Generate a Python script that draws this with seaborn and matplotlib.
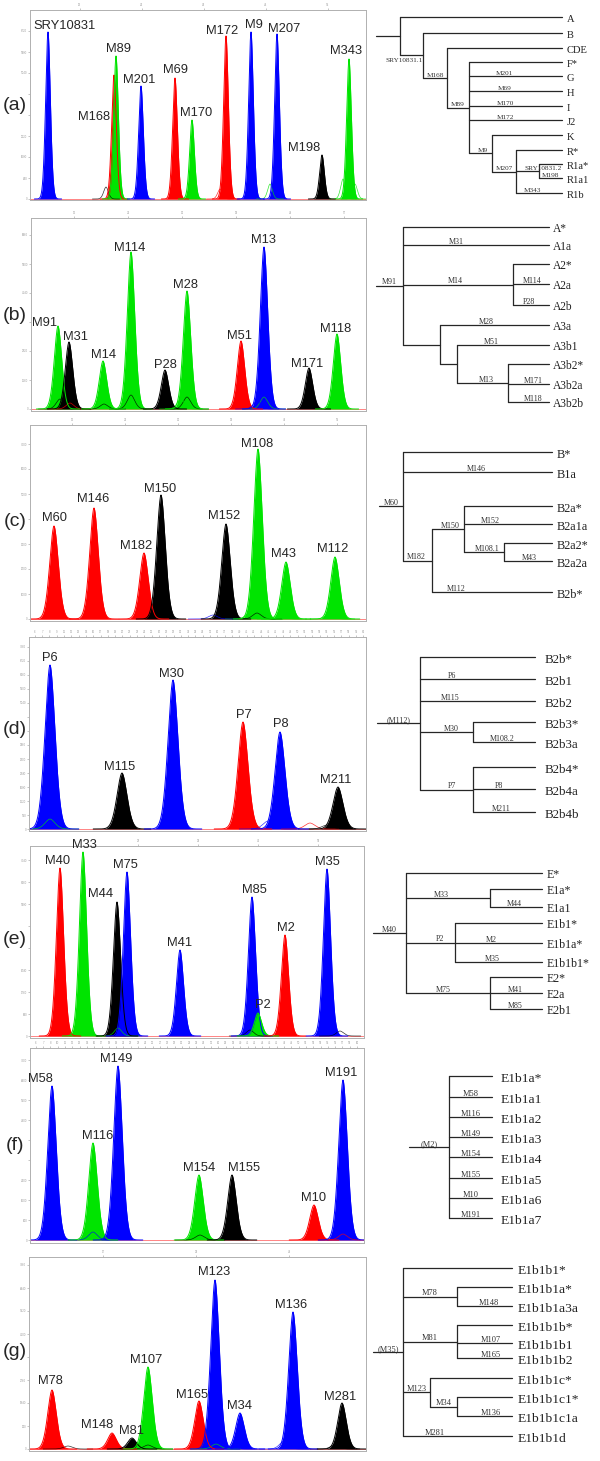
import numpy as np
import pandas as pd
import seaborn as sns
import matplotlib.pyplot as plt

sns.set_style('white')
plt.rcParams['font.family'] = ['Liberation Sans', 'DejaVu Sans']

DYE = {'blue': '#0000ff', 'red': '#ff0000', 'green': '#00e400', 'black': '#000000'}

# ---------------- electropherogram data (scan position, peak height, dye) ----------------
a_markers = ['SRY10831', 'M168', 'M89', 'M201', 'M69', 'M170', 'M172', 'M9', 'M207', 'M198', 'M343']
a_pos = [48, 114, 116, 141, 175, 192, 226, 251, 277, 322, 349]
a_height = [167, 124, 143, 113, 121, 79, 163, 167, 165, 44, 140]
a_dye = ['blue', 'red', 'green', 'blue', 'red', 'green', 'red', 'blue', 'blue', 'black', 'green']
a_minor_pos = [106, 220, 250, 270, 343, 355]
a_minor_h = [12, 10, 25, 15, 20, 15]
a_minor_dye = ['black', 'red', 'blue', 'green', 'green', 'green']

b_markers = ['M91', 'M31', 'M14', 'M114', 'P28', 'M28', 'M51', 'M13', 'M171', 'M118']
b_pos = [58, 69, 103, 131, 165, 187, 241, 264, 309, 337]
b_height = [83, 67, 48, 157, 39, 118, 68, 162, 41, 75]
b_dye = ['green', 'black', 'green', 'green', 'black', 'green', 'red', 'blue', 'black', 'green']
b_minor_pos = [60, 70, 104, 131, 187, 181, 264, 257]
b_minor_h = [10, 6, 5, 14, 12, 10, 12, 8]
b_minor_dye = ['black', 'red', 'black', 'black', 'black', 'green', 'green', 'blue']

c_markers = ['M60', 'M146', 'M182', 'M150', 'M152', 'M108', 'M43', 'M112']
c_pos = [54, 94, 144, 161, 226, 258, 286, 335]
c_height = [93, 111, 66, 124, 95, 170, 57, 62]
c_dye = ['red', 'red', 'red', 'black', 'black', 'green', 'green', 'green']
c_minor_pos = [250, 257, 282, 330, 213]
c_minor_h = [6, 6, 3, 5, 4]
c_minor_dye = ['green', 'black', 'green', 'green', 'blue']

d_markers = ['P6', 'M115', 'M30', 'P7', 'P8', 'M211']
d_pos = [50, 122, 173, 243, 280, 338]
d_height = [164, 56, 149, 107, 97, 42]
d_dye = ['blue', 'black', 'blue', 'red', 'blue', 'black']
d_minor_pos = [50, 268, 310, 327]
d_minor_h = [10, 8, 6, 4]
d_minor_dye = ['green', 'blue', 'red', 'black']

e_markers = ['M40', 'M33', 'M44', 'M75', 'M41', 'M85', 'P2', 'M2', 'M35']
e_pos = [60, 83, 117, 127, 180, 252, 258, 285, 327]
e_height = [168, 184, 134, 164, 86, 139, 23, 101, 167]
e_dye = ['red', 'green', 'black', 'blue', 'blue', 'blue', 'green', 'red', 'blue']
e_minor_pos = [118, 250, 340]
e_minor_h = [8, 6, 5]
e_minor_dye = ['green', 'black', 'black']

f_markers = ['M58', 'M116', 'M149', 'M154', 'M155', 'M10', 'M191']
f_pos = [52, 93, 118, 199, 232, 314, 343]
f_height = [154, 97, 174, 65, 65, 35, 160]
f_dye = ['blue', 'green', 'blue', 'green', 'black', 'red', 'blue']
f_minor_pos = [93, 200, 343]
f_minor_h = [8, 5, 6]
f_minor_dye = ['blue', 'black', 'red']

g_markers = ['M78', 'M148', 'M81', 'M107', 'M165', 'M123', 'M34', 'M136', 'M281']
g_pos = [52, 112, 132, 148, 199, 215, 240, 293, 342]
g_height = [59, 16, 11, 82, 48, 169, 36, 137, 46]
g_dye = ['red', 'red', 'black', 'green', 'red', 'blue', 'blue', 'blue', 'black']
g_minor_pos = [68, 148, 216, 232, 284, 335]
g_minor_h = [3, 4, 5, 3, 8, 4]
g_minor_dye = ['black', 'black', 'green', 'blue', 'blue', 'black']

# ---------------- layout (pixel boxes, label offsets, widths) ----------------
panels = [
    ('a', a_markers, a_pos, a_height, a_dye, (a_minor_pos, a_minor_h, a_minor_dye),
     (30, 10, 366, 200), 1, 3.4, 62, 21, 105,
     [17, -20, 2, -2, 0, 4, -4, 3, 7, -18, -3], [3, -45, 4, 3, 5, 4, 2, 4, 2, 4, 5]),
    ('b', b_markers, b_pos, b_height, b_dye, (b_minor_pos, b_minor_h, b_minor_dye),
     (31, 218, 366, 411), 2, 5.4, 54, 29, 316,
     [-13, 6, 1, -1, 0, -2, -1, 0, -2, -1], [0, 2, 3, 1, 2, 3, 2, 4, 1, 2]),
    ('c', c_markers, c_pos, c_height, c_dye, (c_minor_pos, c_minor_h, c_minor_dye),
     (30, 425, 366, 621), 2, 6.2, 53, 25, 521,
     [0, -1, -8, -1, -2, -1, -3, -2], [5, 6, 4, 3, 5, 2, 5, 5]),
    ('d', d_markers, d_pos, d_height, d_dye, (d_minor_pos, d_minor_h, d_minor_dye),
     (29, 637, 366, 831), 2, 7.2, 7.3, 14, 729,
     [0, -2, -1, 1, 1, -2], [4, 3, 3, 4, 5, 4]),
    ('e', e_markers, e_pos, e_height, e_dye, (e_minor_pos, e_minor_h, e_minor_dye),
     (30, 846, 364, 1038), 2, 5.2, 60, 22, 940,
     [-2, 1, -16, -2, 0, 2, 5, 1, 0], [4, 4, 5, 4, 4, 4, 5, 4, 4]),
    ('f', f_markers, f_pos, f_height, f_dye, (f_minor_pos, f_minor_h, f_minor_dye),
     (30, 1048, 364, 1243), 3, 6.2, 7.3, 20, 1145,
     [-12, 5, -2, 0, 12, 0, -2], [4, 4, 4, 4, 4, 4, 4]),
    ('g', g_markers, g_pos, g_height, g_dye, (g_minor_pos, g_minor_h, g_minor_dye),
     (29, 1257, 366, 1451), 2, 6.2, 93, 23, 1352,
     [-2, -15, -1, -2, -7, -1, -1, -2, -2], [6, 5, 4, 4, 3, 5, 4, 4, 3]),
]

# ---------------- haplogroup trees ----------------
tree_a = (400, [(None, 'A'), ('SRY10831.1', (423, [(None, 'B'), ('M168', (447, [
    (None, 'CDE'), ('M89', (469, [(None, 'F*'), ('M201', 'G'), ('M69', 'H'), ('M170', 'I'), ('M172', 'J2'),
                                   ('M9', (492, [(None, 'K'), ('M207', (516, [
                                       (None, 'R*'), ('SRY10831.2', (539, [(None, 'R1a*'), ('M198', 'R1a1')])),
                                       ('M343', 'R1b')]))]))]))]))]))])
tree_b = (403, [(None, 'A*'), ('M31', 'A1a'),
                ('M14', (513, [(None, 'A2*'), ('M114', 'A2a'), ('P28', 'A2b')])),
                (None, (440, [('M28', 'A3a'), (None, (457, [
                    ('M51', 'A3b1'), ('M13', (508, [(None, 'A3b2*'), ('M171', 'A3b2a'), ('M118', 'A3b2b')]))]))]))])
tree_c = (403, [(None, 'B*'), ('M146', 'B1a'),
                ('M182', (432, [('M150', (464, [(None, 'B2a*'), ('M152', 'B2a1a'),
                                                ('M108.1', (504, [(None, 'B2a2*'), ('M43', 'B2a2a')]))])),
                                ('M112', 'B2b*')]))])
tree_d = (420, [(None, 'B2b*'), ('P6', 'B2b1'), ('M115', 'B2b2'),
                ('M30', (473, [(None, 'B2b3*'), ('M108.2', 'B2b3a')])),
                ('P7', (473, [(None, 'B2b4*'), ('P8', 'B2b4a'), ('M211', 'B2b4b')]))])
tree_e = (406, [(None, 'E*'), ('M33', (490, [(None, 'E1a*'), ('M44', 'E1a1')])),
                ('P2', (455, [(None, 'E1b1*'), ('M2', 'E1b1a*'), ('M35', 'E1b1b1*')])),
                ('M75', (490, [(None, 'E2*'), ('M41', 'E2a'), ('M85', 'E2b1')]))])
tree_f = (449, [(None, 'E1b1a*'), ('M58', 'E1b1a1'), ('M116', 'E1b1a2'), ('M149', 'E1b1a3'),
                ('M154', 'E1b1a4'), ('M155', 'E1b1a5'), ('M10', 'E1b1a6'), ('M191', 'E1b1a7')])
tree_g = (403, [(None, 'E1b1b1*'), ('M78', (457, [(None, 'E1b1b1a*'), ('M148', 'E1b1b1a3a')])),
                ('M81', (457, [(None, 'E1b1b1b*'), ('M107', 'E1b1b1b1'), ('M165', 'E1b1b1b2')])),
                ('M123', (430, [(None, 'E1b1b1c*'), ('M34', (457, [(None, 'E1b1b1c1*'), ('M136', 'E1b1b1c1a')]))])),
                ('M281', 'E1b1b1d')])

trees = [
    (tree_a, 376, None, [17, 33, 48, 62, 76, 91, 106, 120, 135, 150, 164, 178, 193], 562, 5, 7.6, 5.2,
     {'M201': 504, 'M69': 505, 'M170': 505, 'M172': 505, 'M9': 483, 'SRY10831.2': 543, 'M343': 532,
      'SRY10831.1': 404}),
    (tree_b, 376, 'M91', [227, 245, 264, 284, 305, 325, 345, 364, 384, 402], 549, 4, 8.3, 5.8,
     {'M31': 456, 'M14': 455, 'M114': 532, 'P28': 529, 'M28': 486, 'M51': 491, 'M13': 486,
      'M171': 533, 'M118': 533}),
    (tree_c, 379, 'M60', [452, 472, 506, 524, 543, 561, 592], 552, 5, 8.8, 5.8,
     {'M146': 476, 'M182': 416, 'M150': 450, 'M152': 490, 'M108.1': 487, 'M43': 529, 'M112': 456}),
    (tree_d, 377, '(M112)', [657, 679, 701, 722, 742, 767, 789, 812], 535, 10, 9.3, 5.8,
     {'P6': 452, 'M115': 450, 'M30': 451, 'M108.2': 502, 'P7': 452, 'P8': 499, 'M211': 501}),
    (tree_e, 373, 'M40', [873, 889, 907, 923, 943, 962, 977, 993, 1009], 542, 5, 8.6, 5.8,
     {'M33': 441, 'M44': 514, 'P2': 440, 'M2': 491, 'M35': 492, 'M75': 443, 'M41': 515, 'M85': 515}),
    (tree_f, 409, '(M2)', [1076, 1097, 1117, 1137, 1157, 1178, 1198, 1218], 492, 9, 9.7, 6.0, {}),
    (tree_g, 373, '(M35)', [1268, 1287, 1306, 1325, 1343, 1358, 1378, 1397, 1416, 1436], 512, 6, 9.7, 6.0,
     {'M148': 489, 'M107': 491, 'M165': 491, 'M136': 491, 'M281': 435}),
]

W, H = 600, 1461
fig = plt.figure(figsize=(6, 14.61), dpi=100)


def peak_frame(markers, pos, height, dyes, w):
    parts = []
    for m, c, h, d in zip(markers, pos, height, dyes):
        xs = np.linspace(c - 4 * w, c + 4 * w, 161)
        ys = h * np.exp(-(np.abs(xs - c) / w) ** 1.8)
        parts.append(pd.DataFrame({'x': xs, 'y': ys, 'marker': m, 'dye': d}))
    return pd.concat(parts, ignore_index=True)


for (let, markers, pos, height, dyes, minor, box, boff, w, xstep, ystep, ly, ldx, ldy) in panels:
    l, t, r, b = box
    ax = fig.add_axes([l / W, 1 - b / H, (r - l) / W, (b - t) / H])
    ax.set_xlim(l, r)
    ax.set_ylim(-boff, (b - t) - boff)

    mp, mh, md = minor
    mdf = peak_frame([f'm{i}' for i in range(len(mp))], mp, mh, md, w)
    sns.lineplot(data=mdf, x='x', y='y', hue='marker', units='marker', estimator=None, sort=False,
                 palette={f'm{i}': DYE[d] for i, d in enumerate(md)}, legend=False, lw=0.5, alpha=0.8, ax=ax)

    df = peak_frame(markers, pos, height, dyes, w)
    for m, d in zip(markers, dyes):
        sub = df[df.marker == m]
        ax.fill_between(sub.x, 0, sub.y, color=DYE[d], lw=0)
    sns.lineplot(data=df, x='x', y='y', hue='marker', units='marker', estimator=None, sort=False,
                 palette={m: DYE[d] for m, d in zip(markers, dyes)}, legend=False, lw=0.7, ax=ax)
    ax.axhline(0, color='#ff7070', lw=0.6, zorder=0.5)

    for m, c, h, dx, dy in zip(markers, pos, height, ldx, ldy):
        ax.text(c + dx, h + dy, m, ha='center', va='baseline', fontsize=9.3)

    # tiny axis numbers are left out where a label covers them
    lab_h = (b - ly) - boff
    top_h = (b - t) - boff
    busy_x = [c + dx for c, h, dx, dy in zip(pos, height, ldx, ldy) if h + dy + 10 > top_h]
    ax.set_xticks(np.arange(l + xstep * 0.8, r, xstep))
    ax.set_yticks(np.arange(0, b - t - 4, ystep))
    ax.xaxis.set_major_formatter(plt.FuncFormatter(
        lambda v, p, bx=busy_x: '' if any(abs(v - x) < 20 for x in bx) else f'{v / 6:.0f}'))
    ax.yaxis.set_major_formatter(plt.FuncFormatter(
        lambda v, p, lh=lab_h: '' if abs(v - lh) < 16 else f'{v * 40:.0f}'))
    ax.tick_params(axis='x', top=True, bottom=False, labeltop=True, labelbottom=False,
                   labelsize=2, length=1.5, width=0.4, pad=0.5, color='#999', labelcolor='#999')
    ax.tick_params(axis='y', left=True, labelsize=2, length=1.5, width=0.4, pad=0.5,
                   color='#999', labelcolor='#999')
    ax.set_xlabel('')
    ax.set_ylabel('')
    for s in ax.spines.values():
        s.set_color('#b0b0b0')
        s.set_linewidth(0.7)

    fig.text(15 / W, 1 - ly / H, f'({let})', ha='center', va='center', fontsize=14)

# tree overlay in pixel coordinates
tax = fig.add_axes([0, 0, 1, 1])
tax.set_xlim(0, W)
tax.set_ylim(H, 0)
tax.axis('off')
tax.patch.set_alpha(0)

LC = '#262626'


def draw_tree(tree, stub_x, stub_label, rows, end_x, gap, leaf_fs, lab_fs, lab_x):
    it = iter(rows)

    def label(lab, x0, x1, y):
        if lab is None:
            return
        cx = lab_x.get(lab, (x0 + x1) / 2)
        if lab == 'SRY10831.1':
            tax.text(cx, y + 2.5, lab, ha='center', va='top', fontsize=lab_fs,
                     family='Liberation Serif', color='#333')
        else:
            tax.text(cx, y - 1.3, lab, ha='center', va='baseline', fontsize=lab_fs,
                     family='Liberation Serif', color='#333')

    def walk(node, x_par, lab):
        if isinstance(node, str):
            y = next(it)
            tax.plot([x_par, end_x], [y, y], color=LC, lw=0.9)
            tax.text(end_x + gap, y + 0.45 * leaf_fs * 1.389, node, ha='left', va='baseline',
                     fontsize=leaf_fs, family='Liberation Serif', color='#222')
            label(lab, x_par, end_x, y)
            return y
        x_node, kids = node
        ys = [walk(k, x_node, l) for l, k in kids]
        y = (min(ys) + max(ys)) / 2
        tax.plot([x_node, x_node], [min(ys), max(ys)], color=LC, lw=0.9)
        tax.plot([x_par, x_node], [y, y], color=LC, lw=0.9)
        label(lab, x_par, x_node, y)
        return y

    walk(tree, stub_x, stub_label)


for tr in trees:
    draw_tree(*tr)

fig.savefig('out.png', dpi=100)
